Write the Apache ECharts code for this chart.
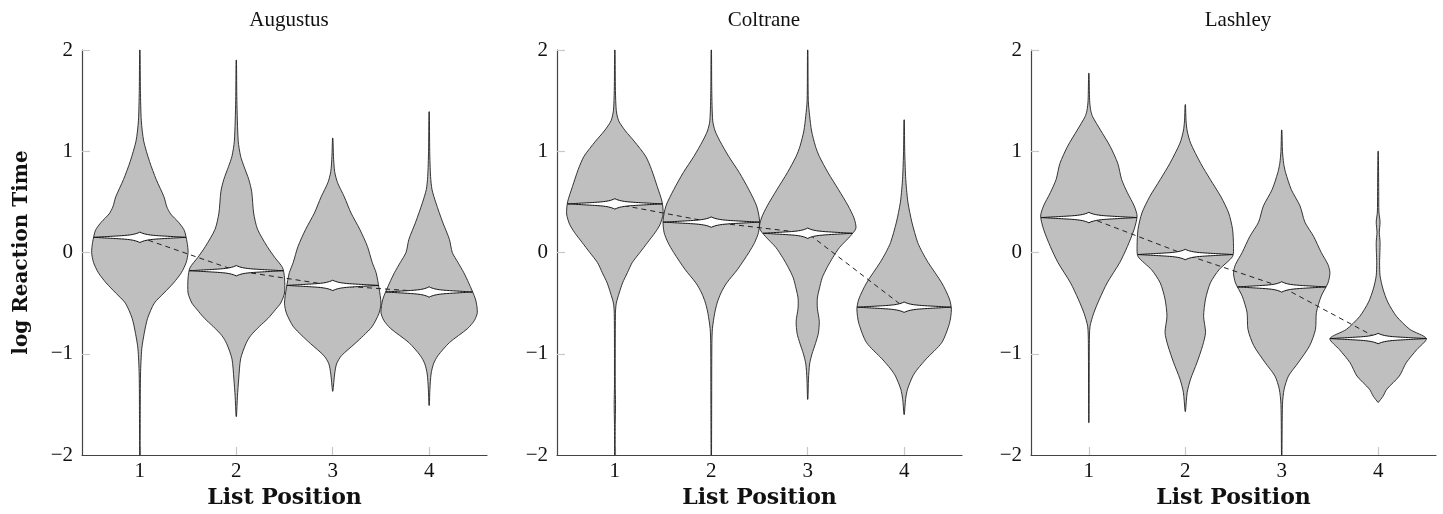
<!DOCTYPE html>
<html>
<head>
<meta charset="utf-8">
<script src="https://cdn.jsdelivr.net/npm/echarts@6/dist/echarts.min.js"></script>
<style>
  html, body { margin: 0; padding: 0; background: #fff; }
  #chart { width: 1443px; height: 514px; }
</style>
</head>
<body>
<div id="chart"></div>
<script>
  // panels, positions, ticks
  const panels = ["Augustus", "Coltrane", "Lashley"];
  const positions = [1, 2, 3, 4];
  const yTicks = [-2, -1, 0, 1, 2];

  // medians (white marker + dashed line)
  const medianAugustus = [0.15, -0.18, -0.325, -0.39];
  const medianColtrane = [0.48, 0.3, 0.19, -0.54];
  const medianLashley = [0.345, -0.02, -0.34, -0.85];

  // violin outlines: [log RT, half width in list-position units]
  const augustus1 = [[2.0, 0.002], [1.6, 0.006], [1.3, 0.015], [1.1, 0.04], [0.9, 0.1], [0.72, 0.17], [0.55, 0.25], [0.45, 0.28], [0.38, 0.32], [0.3, 0.4], [0.22, 0.46], [0.1, 0.49], [0.0, 0.5], [-0.1, 0.48], [-0.2, 0.43], [-0.3, 0.35], [-0.4, 0.25], [-0.5, 0.15], [-0.65, 0.08], [-0.8, 0.045], [-0.95, 0.02], [-1.2, 0.007], [-1.6, 0.004], [-2.0, 0.002]];
  const augustus2 = [[1.9, 0.002], [1.5, 0.006], [1.1, 0.02], [0.95, 0.045], [0.85, 0.08], [0.72, 0.13], [0.6, 0.16], [0.39, 0.18], [0.23, 0.22], [0.06, 0.32], [-0.05, 0.4], [-0.15, 0.48], [-0.25, 0.5], [-0.4, 0.5], [-0.5, 0.46], [-0.56, 0.41], [-0.65, 0.33], [-0.73, 0.24], [-0.82, 0.15], [-0.9, 0.1], [-1.05, 0.045], [-1.25, 0.025], [-1.42, 0.012], [-1.62, 0.002]];
  const augustus3 = [[1.13, 0.002], [0.95, 0.008], [0.8, 0.02], [0.69, 0.05], [0.55, 0.12], [0.39, 0.19], [0.23, 0.28], [0.06, 0.36], [-0.1, 0.41], [-0.2, 0.45], [-0.35, 0.48], [-0.5, 0.5], [-0.6, 0.48], [-0.73, 0.41], [-0.82, 0.32], [-0.9, 0.23], [-1.02, 0.09], [-1.1, 0.04], [-1.2, 0.02], [-1.37, 0.002]];
  const augustus4 = [[1.39, 0.002], [1.0, 0.006], [0.75, 0.015], [0.62, 0.03], [0.49, 0.07], [0.3, 0.14], [0.13, 0.21], [0.0, 0.24], [-0.1, 0.3], [-0.2, 0.36], [-0.3, 0.41], [-0.46, 0.48], [-0.59, 0.5], [-0.67, 0.47], [-0.75, 0.4], [-0.89, 0.21], [-1.02, 0.09], [-1.1, 0.045], [-1.2, 0.02], [-1.35, 0.008], [-1.51, 0.002]];

  const coltrane1 = [[2.0, 0.002], [1.6, 0.006], [1.4, 0.015], [1.3, 0.04], [1.2, 0.11], [1.1, 0.2], [0.95, 0.32], [0.82, 0.38], [0.65, 0.44], [0.5, 0.49], [0.38, 0.5], [0.28, 0.47], [0.2, 0.42], [0.1, 0.34], [0.0, 0.26], [-0.1, 0.18], [-0.2, 0.13], [-0.3, 0.08], [-0.4, 0.045], [-0.5, 0.015], [-0.6, 0.006], [-1.3, 0.004], [-1.5, 0.007], [-1.7, 0.004], [-2.0, 0.002]];
  const coltrane2 = [[2.0, 0.002], [1.6, 0.005], [1.3, 0.015], [1.2, 0.04], [1.1, 0.09], [0.95, 0.18], [0.79, 0.29], [0.62, 0.39], [0.46, 0.47], [0.32, 0.5], [0.2, 0.49], [0.1, 0.45], [0.0, 0.39], [-0.17, 0.27], [-0.3, 0.16], [-0.4, 0.1], [-0.5, 0.06], [-0.6, 0.035], [-0.75, 0.012], [-0.9, 0.006], [-1.5, 0.004], [-2.0, 0.002]];
  const coltrane3 = [[2.0, 0.002], [1.5, 0.006], [1.35, 0.02], [1.2, 0.04], [1.05, 0.08], [0.95, 0.12], [0.79, 0.21], [0.62, 0.32], [0.46, 0.42], [0.34, 0.48], [0.24, 0.5], [0.16, 0.44], [0.05, 0.33], [-0.05, 0.26], [-0.15, 0.2], [-0.25, 0.15], [-0.36, 0.12], [-0.45, 0.1], [-0.55, 0.1], [-0.68, 0.12], [-0.8, 0.11], [-0.9, 0.08], [-1.0, 0.045], [-1.1, 0.02], [-1.25, 0.008], [-1.45, 0.002]];
  const coltrane4 = [[1.31, 0.002], [1.0, 0.006], [0.75, 0.015], [0.62, 0.025], [0.49, 0.04], [0.3, 0.08], [0.1, 0.14], [0.0, 0.19], [-0.1, 0.25], [-0.3, 0.39], [-0.46, 0.47], [-0.56, 0.49], [-0.7, 0.47], [-0.89, 0.39], [-1.05, 0.23], [-1.15, 0.14], [-1.22, 0.09], [-1.35, 0.035], [-1.45, 0.015], [-1.6, 0.002]];

  const lashley1 = [[1.77, 0.002], [1.5, 0.008], [1.4, 0.02], [1.34, 0.04], [1.21, 0.12], [1.05, 0.22], [0.88, 0.3], [0.72, 0.34], [0.59, 0.4], [0.46, 0.47], [0.36, 0.5], [0.23, 0.47], [0.06, 0.4], [-0.1, 0.32], [-0.3, 0.19], [-0.46, 0.11], [-0.6, 0.05], [-0.73, 0.012], [-0.9, 0.005], [-1.68, 0.002]];
  const lashley2 = [[1.46, 0.002], [1.3, 0.008], [1.2, 0.02], [1.08, 0.055], [0.88, 0.16], [0.72, 0.26], [0.55, 0.37], [0.39, 0.45], [0.23, 0.49], [0.06, 0.5], [-0.04, 0.49], [-0.17, 0.35], [-0.3, 0.26], [-0.46, 0.21], [-0.63, 0.19], [-0.79, 0.21], [-0.92, 0.18], [-1.09, 0.12], [-1.25, 0.055], [-1.38, 0.02], [-1.57, 0.002]];
  const lashley3 = [[1.21, 0.002], [1.0, 0.008], [0.88, 0.02], [0.79, 0.04], [0.62, 0.1], [0.46, 0.19], [0.3, 0.24], [0.16, 0.33], [0.0, 0.41], [-0.12, 0.48], [-0.2, 0.5], [-0.3, 0.48], [-0.43, 0.41], [-0.59, 0.36], [-0.76, 0.35], [-0.92, 0.29], [-1.09, 0.17], [-1.22, 0.07], [-1.35, 0.025], [-1.5, 0.008], [-2.0, 0.002]];
  const lashley4 = [[1.0, 0.002], [0.6, 0.006], [0.4, 0.008], [0.3, 0.02], [0.2, 0.012], [0.1, 0.02], [0.0, 0.018], [-0.1, 0.015], [-0.23, 0.02], [-0.36, 0.05], [-0.49, 0.1], [-0.63, 0.19], [-0.76, 0.33], [-0.85, 0.5], [-0.96, 0.4], [-1.09, 0.29], [-1.22, 0.22], [-1.35, 0.09], [-1.42, 0.05], [-1.48, 0.002]];

  const violins = [
    [augustus1, augustus2, augustus3, augustus4],
    [coltrane1, coltrane2, coltrane3, coltrane4],
    [lashley1, lashley2, lashley3, lashley4],
  ];
  const medians = [medianAugustus, medianColtrane, medianLashley];

  const gridLeft = [82, 557, 1031];
  const serif = "'Liberation Serif', 'DejaVu Serif', serif";
  const boldSerif = "'DejaVu Serif', 'Liberation Serif', serif";

  // half width of a violin at a given y (for the median marker)
  function widthAt(prof, y) {
    for (let i = 0; i < prof.length - 1; i++) {
      const a = prof[i], b = prof[i + 1];
      if (y <= a[0] && y >= b[0]) {
        const t = (a[0] - y) / (a[0] - b[0]);
        return a[1] + (b[1] - a[1]) * t;
      }
    }
    return 0;
  }

  function fmtMinus(v) {
    return v < 0 ? "\u2212" + Math.abs(v) : String(v);
  }

  // thickness of the median marker, t from -1 to 1
  function lensOffset(t) {
    const u = 1 - Math.abs(t);
    return 2.6 * u + 2.6 * Math.pow(u, 8);
  }

  const chart = echarts.init(document.getElementById("chart"));
  const series = [];

  panels.forEach(function (name, i) {
    const profs = violins[i];
    const data = positions.map(function (p, k) { return [p, medians[i][k], k]; });

    series.push({
      type: "custom",
      xAxisIndex: i,
      yAxisIndex: i,
      z: 2,
      silent: true,
      data: data,
      renderItem: function (params, api) {
        const x = api.value(0);
        const prof = profs[api.value(2)];
        const left = prof.map(function (d) { return api.coord([x - d[1], d[0]]); });
        const right = prof.slice().reverse().map(function (d) { return api.coord([x + d[1], d[0]]); });
        return {
          type: "polygon",
          shape: { points: left.concat(right), smooth: 0.25 },
          style: { fill: "#bfbfbf", stroke: "#222", lineWidth: 0.9 },
        };
      },
    });

    series.push({
      type: "line",
      xAxisIndex: i,
      yAxisIndex: i,
      z: 3,
      silent: true,
      symbol: "none",
      data: positions.map(function (p, k) { return [p, medians[i][k]]; }),
      lineStyle: { color: "#222", width: 1, type: [5, 4] },
    });

    series.push({
      type: "custom",
      xAxisIndex: i,
      yAxisIndex: i,
      z: 4,
      silent: true,
      data: data,
      renderItem: function (params, api) {
        const x = api.value(0), m = api.value(1);
        const w = widthAt(profs[api.value(2)], m);
        const c = api.coord([x, m]);
        const half = api.coord([x + w, m])[0] - c[0];
        const pts = [];
        const n = 30;
        for (let j = -n; j <= n; j++) {
          pts.push([c[0] + (j / n) * half, c[1] - lensOffset(j / n)]);
        }
        for (let j = n - 1; j > -n; j--) {
          pts.push([c[0] + (j / n) * half, c[1] + lensOffset(j / n)]);
        }
        return {
          type: "polygon",
          shape: { points: pts },
          style: { fill: "#fff", stroke: "#111", lineWidth: 1 },
        };
      },
    });
  });

  chart.setOption({
    animation: false,
    title: panels.map(function (t, i) {
      return {
        text: t,
        left: gridLeft[i] + 202,
        top: 5,
        textAlign: "center",
        textStyle: { fontFamily: serif, fontWeight: "normal", fontSize: 21, color: "#111" },
      };
    }),
    grid: gridLeft.map(function (l) {
      return { left: l, top: 50, width: 405, height: 406 };
    }),
    xAxis: panels.map(function (t, i) {
      return {
        gridIndex: i,
        type: "value",
        min: 0.4,
        max: 4.6,
        name: "List Position",
        nameLocation: "middle",
        nameGap: 32,
        nameTextStyle: { fontFamily: boldSerif, fontWeight: "bold", fontSize: 22, color: "#111" },
        axisLine: { onZero: false, lineStyle: { color: "#444", width: 1.2 } },
        axisTick: { inside: true, length: 8, customValues: positions, lineStyle: { color: "#c8c8c8", width: 1.2 } },
        axisLabel: { customValues: positions, fontFamily: serif, fontSize: 21, color: "#111", margin: 6 },
        splitLine: { show: false },
      };
    }),
    yAxis: panels.map(function (t, i) {
      return {
        gridIndex: i,
        type: "value",
        min: yTicks[0],
        max: yTicks[yTicks.length - 1],
        interval: 1,
        name: i === 0 ? "log Reaction Time" : "",
        nameLocation: "middle",
        nameGap: 50,
        nameTextStyle: { fontFamily: boldSerif, fontWeight: "bold", fontSize: 20, color: "#111" },
        axisLine: { show: true, onZero: false, lineStyle: { color: "#444", width: 1.2 } },
        axisTick: { show: true, inside: true, length: 8, customValues: yTicks.slice(1), lineStyle: { color: "#c8c8c8", width: 1.2 } },
        axisLabel: { fontFamily: serif, fontSize: 21, color: "#111", margin: 9, formatter: fmtMinus },
        splitLine: { show: false },
      };
    }),
    series: series,
  });
</script>
</body>
</html>
